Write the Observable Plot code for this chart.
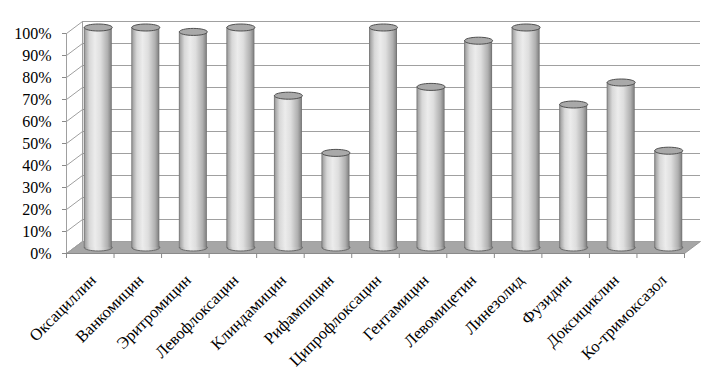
<!DOCTYPE html>
<html>
<head>
<meta charset="utf-8">
<script src="https://cdn.jsdelivr.net/npm/d3@7"></script>
<script src="https://cdn.jsdelivr.net/npm/@observablehq/plot@0.6"></script>
<style>
  html, body { margin: 0; padding: 0; background: #fff; }
  #chart { width: 715px; height: 374px; }
</style>
</head>
<body>
<svg width="0" height="0" style="position:absolute">
  <defs>
    <linearGradient id="cyl" x1="0" y1="0" x2="1" y2="0">
      <stop offset="0" stop-color="#6e6e6e"/>
      <stop offset="0.06" stop-color="#a8a8a8"/>
      <stop offset="0.2" stop-color="#d8d8d8"/>
      <stop offset="0.4" stop-color="#ececec"/>
      <stop offset="0.6" stop-color="#dedede"/>
      <stop offset="0.85" stop-color="#b0b0b0"/>
      <stop offset="0.95" stop-color="#8c8c8c"/>
      <stop offset="1" stop-color="#6a6a6a"/>
    </linearGradient>
  </defs>
</svg>
<div id="chart"></div>
<script>
const categories = ["Оксациллин","Ванкомицин","Эритромицин","Левофлоксацин","Клиндамицин","Рифампицин","Ципрофлоксацин","Гентамицин","Левомицетин","Линезолид","Фузидин","Доксициклин","Ко-тримоксазол"];
const values = [100, 100, 98, 100, 69, 43, 100, 73, 94, 100, 65, 75, 44];
const yTicks = [0, 10, 20, 30, 40, 50, 60, 70, 80, 90, 100];

const W = 715, H = 374, ML = 66, MR = 31, MT = 33, MB = 121;
const depthX = 16, depthY = -12;               // 3D depth offset in px
const pxPerX = (W - ML - MR) / categories.length;
const pxPerY = (H - MT - MB) / 100;
const dX = depthX / pxPerX, dY = -depthY / pxPerY; // depth in data units

const data = categories.map((c, i) => ({i, c, v: values[i]}));
const floor = [
  {x: 0, y: 0}, {x: categories.length, y: 0},
  {x: categories.length + dX, y: dY}, {x: dX, y: dY}, {x: 0, y: 0}
];

function ellipseSymbol(rx, ry) {
  const k = 0.5523;
  return {
    draw(ctx) {
      ctx.moveTo(rx, 0);
      ctx.bezierCurveTo(rx, ry * k, rx * k, ry, 0, ry);
      ctx.bezierCurveTo(-rx * k, ry, -rx, ry * k, -rx, 0);
      ctx.bezierCurveTo(-rx, -ry * k, -rx * k, -ry, 0, -ry);
      ctx.bezierCurveTo(rx * k, -ry, rx, -ry * k, rx, 0);
      ctx.closePath();
    }
  };
}
const barW = 28;
const inset = (pxPerX - barW) / 2;
const ell = ellipseSymbol(barW / 2, 3.5);
const gridColor = "#a0a0a0";

const chart = Plot.plot({
  width: W, height: H,
  marginLeft: ML, marginRight: MR, marginTop: MT, marginBottom: MB,
  x: {type: "linear", domain: [0, categories.length], axis: null, label: null},
  y: {domain: [0, 100], axis: null, label: null},
  style: {fontFamily: "'Liberation Serif', 'Times New Roman', serif", fontSize: "16px", background: "#fff", color: "#000"},
  marks: [
    Plot.line(floor, {x: "x", y: "y", fill: "#a6a6a6", stroke: "#8a8a8a", strokeWidth: 0.8}),
    Plot.ruleY(yTicks, {stroke: gridColor, strokeWidth: 1, dx: depthX, dy: depthY}),
    Plot.link(yTicks, {x1: 0, y1: d => d, x2: dX, y2: d => d + dY, stroke: gridColor}),
    Plot.ruleX([0], {y1: 0, y2: 100, stroke: gridColor}),
    Plot.ruleX([0], {y1: 0, y2: 100, stroke: gridColor, dx: depthX, dy: depthY}),
    Plot.ruleY([0], {stroke: "#8a8a8a"}),
    Plot.axisX({ticks: d3.range(categories.length + 1), tickFormat: () => "", tickSize: 5, stroke: "#8a8a8a", label: null}),
    Plot.axisY({ticks: yTicks, tickFormat: d => d + "%", tickSize: 4, tickPadding: 11, stroke: "#8a8a8a", fill: "#000", label: null}),
    Plot.dot(data, {x: d => d.i + 0.5, y: 0, symbol: ell, dx: depthX / 2, dy: depthY / 2, fill: "url(#cyl)", stroke: "#6a6a6a", strokeWidth: 1}),
    Plot.rectY(data, {x1: d => d.i, x2: d => d.i + 1, y: "v", insetLeft: inset, insetRight: inset, dx: depthX / 2, dy: depthY / 2, fill: "url(#cyl)"}),
    Plot.dot(data, {x: d => d.i + 0.5, y: "v", symbol: ell, dx: depthX / 2, dy: depthY / 2, fill: "#a9a9a9", stroke: "#505050", strokeWidth: 1}),
    Plot.text(data, {x: d => d.i + 0.5, y: 0, text: "c", rotate: -45, textAnchor: "end", fontSize: 16.5, dx: 3, dy: 24, fill: "#000"})
  ]
});
document.getElementById("chart").appendChild(chart);
</script>
</body>
</html>
